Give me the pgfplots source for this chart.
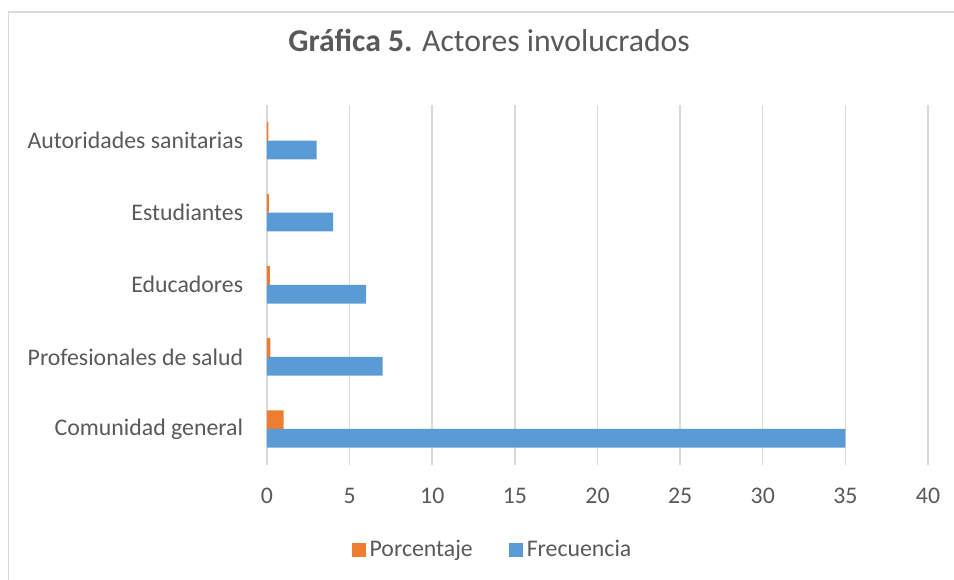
\documentclass[border=0pt]{standalone}
\usepackage{pgfplots}
\pgfplotsset{compat=1.18}
\usepackage{fontspec}
\setmainfont{Carlito}
\definecolor{txt}{HTML}{595959}
\definecolor{gridc}{HTML}{D9D9D9}
\definecolor{orangeb}{HTML}{ED7D31}
\definecolor{blueb}{HTML}{5B9BD5}
\begin{document}
\begin{tikzpicture}
\path[use as bounding box] (-133.5pt,-57pt) rectangle (343.5pt,232.5pt);
\draw[gridc, line width=0.7pt] (-129.35pt,-60pt) -- (-129.35pt,226.5pt) -- (350pt,226.5pt);
\begin{axis}[
  at={(0,0)}, anchor=south west,
  scale only axis,
  width=330.5pt, height=180.2pt,
  xbar, bar width=9.35pt,
  xmin=0, xmax=40,
  xtick={0,5,...,40},
  ymin=-0.5, ymax=4.5,
  ytick={0,1,2,3,4},
  yticklabels={Comunidad general, Profesionales de salud, Educadores, Estudiantes, Autoridades sanitarias},
  xmajorgrids,
  grid style={gridc, line width=0.75pt},
  axis line style={draw=none},
  major tick length=0pt,
  tick style={draw=none},
  /pgf/number format/assume math mode=true,
  tick label style={font=\fontsize{11.9}{14}\selectfont, text=txt},
  xticklabel style={anchor=north, inner sep=0pt, yshift=-11.25pt},
  yticklabel style={anchor=east, inner sep=0pt, xshift=-11.75pt},
  title={{\bfseries Gráfica 5.} Actores involucrados},
  title style={at={(0.336,1)}, anchor=center, yshift=26.3pt, font=\fontsize{15.85}{18}\selectfont, text=txt},
  legend style={at={(0.3427,0)}, anchor=center, yshift=-42.4pt, draw=none, fill=none,
    font=\fontsize{11.9}{14}\selectfont, text=txt, legend columns=2,
    /tikz/every even column/.append style={column sep=16pt}},
  legend image code/.code={\fill[#1] (0pt,-3.5pt) rectangle (7pt,3.5pt);},
  legend cell align=left,
]
\addplot[fill=orangeb, draw=none, bar shift=4.675pt] coordinates {(1,0) (0.2,1) (0.17,2) (0.11,3) (0.09,4)};
\addplot[fill=blueb, draw=none, bar shift=-4.675pt] coordinates {(35,0) (7,1) (6,2) (4,3) (3,4)};
\legend{Porcentaje, Frecuencia}
\end{axis}
\end{tikzpicture}
\end{document}
